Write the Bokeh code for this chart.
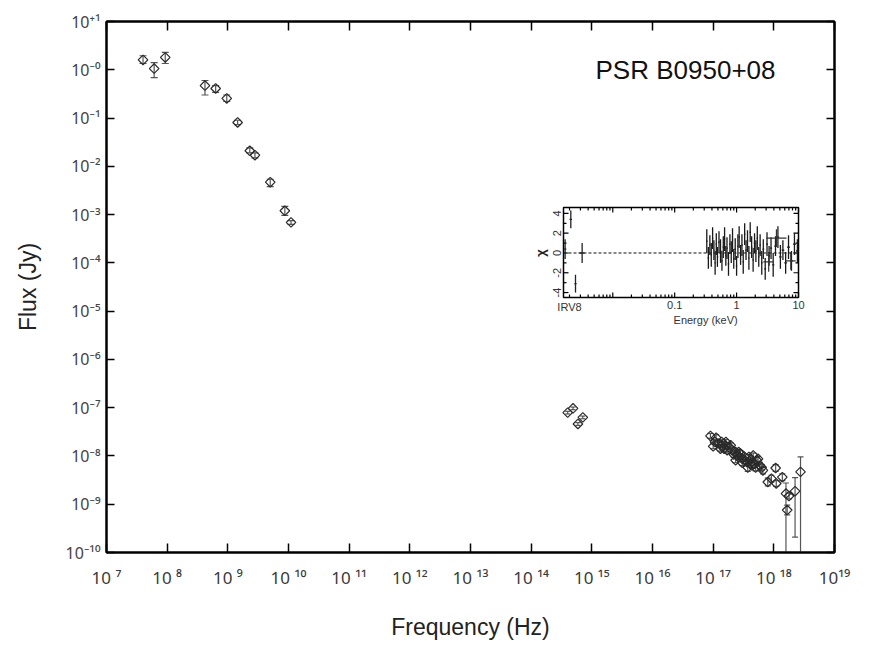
import numpy as np
from bokeh.plotting import figure
from bokeh.models import (LogAxis, FixedTicker, Label, Range1d, ColumnDataSource,
                          LogScale, LinearScale)
from bokeh.core.properties import value
from bokeh.embed import file_html
from bokeh.resources import INLINE

# ---------------- data ----------------
radio_freq = [4.0e7, 6.1e7, 9.3e7, 4.2e8, 6.3e8, 9.6e8, 1.45e9, 2.3e9, 2.8e9, 5.0e9, 8.7e9, 1.1e10]
radio_flux = [1.6, 1.06, 1.8, 0.47, 0.41, 0.255, 0.081, 0.021, 0.017, 0.0047, 0.0012, 0.00069]
radio_hi = [1.95, 1.41, 2.3, 0.60, 0.47, 0.30, 0.090, 0.024, 0.019, 0.0054, 0.00148, 0.00075]
radio_lo = [1.35, 0.69, 1.35, 0.30, 0.34, 0.22, 0.073, 0.019, 0.015, 0.0038, 0.00096, 0.00063]

optical_freq = [4.0e14, 4.9e14, 5.9e14, 7.1e14]
optical_flux = [7.9e-8, 9.7e-8, 4.6e-8, 6.3e-8]
optical_hi = [8.4e-8, 1.03e-7, 4.9e-8, 6.7e-8]
optical_lo = [7.4e-8, 9.1e-8, 4.3e-8, 5.9e-8]

# X-ray points: log10 frequency, log10 flux, error up / down (dex)
xray_logf = [16.955, 17.049, 17.00, 17.08, 17.03, 17.14, 17.21, 17.18, 17.26, 17.31,
             17.29, 17.37, 17.40, 17.42, 17.45, 17.48, 17.51, 17.53, 17.56, 17.59,
             17.62, 17.66, 17.68, 17.72, 17.74, 17.77, 17.80, 17.82, 17.57, 17.64,
             17.37, 17.23, 17.14, 17.34, 17.48, 17.12, 17.20, 17.42, 17.70, 17.61,
             17.90, 17.96, 18.03, 18.04, 18.14, 18.20, 18.22, 18.25, 18.35, 18.44]
xray_logF = [-7.585, -7.62, -7.80, -7.74, -7.71, -7.78, -7.71, -7.85, -7.81, -7.88,
             -7.78, -7.92, -7.99, -8.03, -7.95, -8.06, -8.01, -8.10, -8.13, -8.02,
             -8.08, -7.99, -8.16, -8.09, -8.06, -8.20, -8.24, -8.30, -8.24, -8.20,
             -8.09, -7.88, -7.71, -7.97, -8.14, -7.85, -7.78, -7.92, -8.24, -8.16,
             -8.54, -8.47, -8.25, -8.57, -8.44, -8.78, -9.12, -8.83, -8.73, -8.33]
xray_up = [0.05, 0.06, 0.05, 0.06, 0.05, 0.06, 0.05, 0.06, 0.05, 0.06,
           0.05, 0.06, 0.06, 0.05, 0.06, 0.06, 0.05, 0.06, 0.07, 0.05,
           0.06, 0.05, 0.07, 0.06, 0.05, 0.07, 0.06, 0.07, 0.08, 0.06,
           0.05, 0.06, 0.05, 0.06, 0.06, 0.05, 0.06, 0.05, 0.07, 0.06,
           0.08, 0.07, 0.07, 0.06, 0.07, 0.22, 0.10, 0.06, 0.28, 0.31]
xray_dn = [0.05, 0.06, 0.05, 0.06, 0.05, 0.06, 0.05, 0.06, 0.05, 0.06,
           0.05, 0.06, 0.06, 0.05, 0.06, 0.06, 0.05, 0.06, 0.07, 0.05,
           0.06, 0.05, 0.07, 0.06, 0.05, 0.07, 0.06, 0.07, 0.08, 0.06,
           0.05, 0.06, 0.05, 0.06, 0.06, 0.05, 0.06, 0.05, 0.07, 0.06,
           0.08, 0.07, 0.07, 0.06, 0.07, 3.00, 0.10, 0.06, 0.95, 3.00]

# Inset: residuals (chi) vs energy (keV)
low_E = [0.0017, 0.0021, 0.0025, 0.0032]
low_Elo = [0.00162, 0.0020, 0.0024, 0.0029]
low_Ehi = [0.00178, 0.0022, 0.0026, 0.0035]
low_chi = [0.4, 3.4, -3.1, 0.0]
low_err = [1.0, 0.9, 0.9, 1.0]

dense_E = [0.33, 0.35, 0.37, 0.39, 0.41, 0.43, 0.45, 0.47, 0.49, 0.52,
           0.55, 0.58, 0.61, 0.64, 0.67, 0.70, 0.74, 0.78, 0.82, 0.86,
           0.90, 0.95, 1.00, 1.05, 1.10, 1.16, 1.22, 1.28, 1.35, 1.42,
           1.50, 1.58, 1.66, 1.75, 1.85, 1.95, 2.05, 2.16, 2.28, 2.40,
           2.55, 2.70, 2.90, 3.10, 3.35, 3.60, 3.90, 4.25, 4.65, 5.10,
           5.60, 6.20, 6.90, 7.70, 8.60, 9.60]
dense_chi = [1.2, -0.5, 0.8, -0.2, 1.5, 0.3, -1.0, 0.9, -0.4, 1.1,
             0.2, -0.8, 0.6, 1.4, -0.3, 0.5, -1.1, 0.9, 0.1, 1.3,
             -0.6, 0.4, -1.3, 0.7, 1.6, -0.2, 0.8, -0.9, 1.9, 0.3,
             1.2, -0.5, 2.1, 0.6, -0.7, 1.0, 0.2, 1.5, -0.4, 0.8,
             -1.0, 0.4, -1.6, 0.9, -0.3, 0.5, -1.2, 0.7, 1.6, -0.4,
             0.3, -1.0, 0.6, -0.8, 0.9, 0.2]
dense_err = [1.2, 1.1, 1.0, 1.2, 1.1, 1.0, 1.2, 1.1, 1.0, 1.1,
             1.2, 1.0, 1.1, 1.2, 1.0, 1.1, 1.2, 1.0, 1.1, 1.2,
             1.0, 1.1, 1.0, 1.2, 1.1, 1.0, 1.1, 1.2, 1.1, 1.0,
             1.1, 1.2, 1.0, 1.1, 1.2, 1.0, 1.1, 1.2, 1.0, 1.1,
             1.2, 1.0, 1.1, 1.2, 1.0, 1.1, 1.2, 1.0, 1.1, 1.2,
             1.0, 1.1, 1.2, 1.0, 1.1, 1.2]
wide_E = [4.4, 3.3, 7.5]
wide_Elo = [3.0, 2.7, 6.2]
wide_Ehi = [6.4, 4.0, 9.0]
wide_chi = [1.5, -0.9, -0.8]
wide_err = [0.9, 1.0, 0.9]

title_text = "PSR B0950+08"

# inset axis definitions
E_MIN, E_MAX = 0.0016, 10.0
CHI_MIN, CHI_MAX = -4.5, 4.6
ex_major = [0.01, 0.1, 1.0, 10.0]
ex_minor = [0.002, 0.003, 0.004, 0.005, 0.006, 0.007, 0.008, 0.009,
            0.02, 0.03, 0.04, 0.05, 0.06, 0.07, 0.08, 0.09,
            0.2, 0.3, 0.4, 0.5, 0.6, 0.7, 0.8, 0.9,
            2.0, 3.0, 4.0, 5.0, 6.0, 7.0, 8.0, 9.0]
ex_label_pos = [0.002, 0.1, 1.0, 10.0]
ex_label_txt = ["IRV8", "0.1", "1", "10"]
chi_major = [-4, -2, 0, 2, 4]
chi_minor = [-3, -1, 1, 3]

# ---------------- fonts & styles ----------------
SANS = "Liberation Sans"
TICKF = "Noto Sans"
SUP = str.maketrans("0123456789+-", "⁰¹²³⁴⁵⁶⁷⁸⁹⁺⁻")


def sup(s):
    return s.translate(SUP)


xticks = [10.0 ** k for k in range(7, 20)]
yticks = [10.0 ** k for k in range(-10, 2)]
xlabels = {}
for k, t in zip(range(7, 20), xticks):
    xlabels[t] = ("10" + sup(str(k))) if k == 19 else ("10 " + sup(str(k)))
ylabels = {}
for k, t in zip(range(-10, 2), yticks):
    if k == 1:
        ylabels[t] = "10" + sup("+1")
    elif k == 0:
        ylabels[t] = "10" + sup("-0")
    else:
        ylabels[t] = "10" + sup(str(k))

# ---------------- layout geometry (pixels) ----------------
FW, FH = 728, 531           # main frame size
IL, IR = 457, 692           # inset frame left/right, px from main frame left
IT, IB = 186, 276           # inset frame top/bottom, px from main frame top

lx_per_px = (np.log10(E_MAX) - np.log10(E_MIN)) / (IR - IL)
ins_x0 = 10 ** (np.log10(E_MIN) - IL * lx_per_px)
ins_x1 = 10 ** (np.log10(E_MAX) + (FW - IR) * lx_per_px)
chi_per_px = (CHI_MAX - CHI_MIN) / (IB - IT)
ins_y1 = CHI_MAX + IT * chi_per_px
ins_y0 = CHI_MIN - (FH - IB) * chi_per_px

# ---------------- main figure ----------------
p = figure(frame_width=FW, frame_height=FH, x_axis_type="log", y_axis_type="log",
           x_range=Range1d(1e7, 1e19), y_range=Range1d(1e-10, 10),
           output_backend="svg", toolbar_location=None,
           min_border_left=106, min_border_right=30, min_border_top=21, min_border_bottom=94,
           background_fill_color="white", border_fill_color="white")
p.extra_x_ranges = {"ins": Range1d(ins_x0, ins_x1)}
p.extra_x_scales = {"ins": LogScale()}
p.extra_y_ranges = {"chi": Range1d(ins_y0, ins_y1)}
p.extra_y_scales = {"chi": LinearScale()}
p.grid.visible = False
p.outline_line_color = "black"
p.outline_line_width = 2

xa = p.xaxis[0]
xa.ticker = FixedTicker(ticks=xticks, minor_ticks=[])
xa.major_label_overrides = xlabels
xa.major_tick_in = 9
xa.major_tick_out = 0
xa.major_tick_line_width = 1.5
xa.axis_line_width = 2
xa.major_label_text_font = TICKF
xa.major_label_text_font_size = "17px"
xa.major_label_text_color = "#3a3a3a"
xa.major_label_standoff = 13
xa.axis_label = "Frequency (Hz)"
xa.axis_label_text_font = SANS
xa.axis_label_text_font_size = "23px"
xa.axis_label_text_font_style = "normal"
xa.axis_label_text_color = "#222222"
xa.axis_label_standoff = 22

ya = p.yaxis[0]
ya.ticker = FixedTicker(ticks=yticks, minor_ticks=[])
ya.major_label_overrides = ylabels
ya.major_tick_in = 8
ya.major_tick_out = 0
ya.major_tick_line_width = 1.5
ya.axis_line_width = 2
ya.major_label_text_font = TICKF
ya.major_label_text_font_size = "16px"
ya.major_label_text_color = "#444444"
ya.major_label_standoff = 6
ya.axis_label = "Flux (Jy)"
ya.axis_label_text_font = SANS
ya.axis_label_text_font_size = "23px"
ya.axis_label_text_font_style = "normal"
ya.axis_label_text_color = "#222222"
ya.axis_label_standoff = 22

top = LogAxis(ticker=FixedTicker(ticks=xticks, minor_ticks=[]), major_tick_in=9, major_tick_out=0,
              major_tick_line_width=1.5, axis_line_width=2, major_label_text_font_size="8px",
              major_label_text_alpha=0.0, major_label_standoff=0)
p.add_layout(top, "above")
right = LogAxis(ticker=FixedTicker(ticks=yticks, minor_ticks=[]), major_tick_in=8, major_tick_out=0,
                major_tick_line_width=1.5, axis_line_width=2, major_label_text_font_size="8px",
                major_label_text_alpha=0.0, major_label_standoff=0)
p.add_layout(right, "right")

ERR = "#555555"
MK = "#2a2a2a"


def draw_group(x, y, lo, hi, cap=7, ecolor=ERR):
    src = ColumnDataSource(dict(x=x, y=y, lo=lo, hi=hi))
    p.segment(x0="x", x1="x", y0="lo", y1="hi", source=src, line_color=ecolor, line_width=1.2)
    p.scatter(x="x", y="lo", source=src, marker="dash", size=cap, line_color=ecolor, line_width=1.2)
    p.scatter(x="x", y="hi", source=src, marker="dash", size=cap, line_color=ecolor, line_width=1.2)
    p.scatter(x="x", y="y", source=src, marker="square", angle=np.pi / 4, size=6.8,
              fill_alpha=0, line_color=MK, line_width=1.2)


draw_group(radio_freq, radio_flux, radio_lo, radio_hi)
draw_group(optical_freq, optical_flux, optical_lo, optical_hi, cap=5)
xf = list(10.0 ** np.array(xray_logf))
xF = list(10.0 ** np.array(xray_logF))
xlo = list(10.0 ** (np.array(xray_logF) - np.array(xray_dn)))
xhi = list(10.0 ** (np.array(xray_logF) + np.array(xray_up)))
draw_group(xf, xF, xlo, xhi, cap=6)

p.add_layout(Label(x=1.15e15, y=0.98, text=title_text, text_font=SANS, text_font_size="26px",
                   text_color="#111111", text_baseline="middle", text_align="left"))

# ---------------- inset (drawn on the extra ranges) ----------------
R = dict(x_range_name="ins", y_range_name="chi")
TICK_MAJ, TICK_MIN = 5, 3


def xfac(px):
    return 10 ** (px * lx_per_px)


p.quad(left=[E_MIN], right=[E_MAX], bottom=[CHI_MIN], top=[CHI_MAX], fill_color="white",
       line_color="black", line_width=1.5, **R)
for ticks, ln in ((ex_major, TICK_MAJ), (ex_minor, TICK_MIN)):
    n = len(ticks)
    p.segment(x0=ticks, x1=ticks, y0=[CHI_MIN] * n, y1=[CHI_MIN + ln * chi_per_px] * n,
              line_color="black", line_width=1.2, **R)
    p.segment(x0=ticks, x1=ticks, y0=[CHI_MAX] * n, y1=[CHI_MAX - ln * chi_per_px] * n,
              line_color="black", line_width=1.2, **R)
for ticks, ln in ((chi_major, TICK_MAJ), (chi_minor, TICK_MIN)):
    n = len(ticks)
    p.segment(x0=[E_MIN] * n, x1=[E_MIN * xfac(ln)] * n, y0=ticks, y1=ticks,
              line_color="black", line_width=1.2, **R)
    p.segment(x0=[E_MAX] * n, x1=[E_MAX / xfac(ln)] * n, y0=ticks, y1=ticks,
              line_color="black", line_width=1.2, **R)
p.text(x=ex_label_pos, y=[CHI_MIN] * len(ex_label_pos), text=ex_label_txt, y_offset=3,
       text_align="center", text_baseline="top", text_font=value(SANS), text_font_size="11px",
       text_color="#333333", **R)
p.text(x=[E_MIN] * len(chi_major), y=chi_major, text=[str(c) for c in chi_major], x_offset=-3,
       angle=np.pi / 2, text_align="center", text_baseline="bottom", text_font=value(SANS),
       text_font_size="11px", text_color="#333333", **R)
p.text(x=[10 ** ((np.log10(0.1) + np.log10(1.0)) / 2)], y=[CHI_MIN], text=["Energy (keV)"], y_offset=16,
       text_align="center", text_baseline="top", text_font=value(SANS), text_font_size="11px",
       text_color="#333333", **R)
p.text(x=[E_MIN], y=[0.0], text=["χ"], x_offset=-16, angle=np.pi / 2, text_align="center",
       text_baseline="bottom", text_font=value(SANS), text_font_size="13px", text_font_style="bold",
       text_color="#222222", **R)
p.segment(x0=[E_MIN], x1=[E_MAX], y0=[0.0], y1=[0.0], line_color="#111111", line_dash="3 2",
          line_width=1, **R)

e = np.array(dense_E)
mids = np.sqrt(e[1:] * e[:-1])
d_lo = np.concatenate([[e[0] ** 2 / mids[0]], mids])
d_hi = np.concatenate([mids, [e[-1] ** 2 / mids[-1]]])
dchi = np.array(dense_chi)
derr = np.array(dense_err)
p.segment(x0=e, x1=e, y0=dchi - derr, y1=dchi + derr, line_color="#1a1a1a", line_width=1.3, **R)
p.segment(x0=d_lo, x1=d_hi, y0=dchi, y1=dchi, line_color="#1a1a1a", line_width=1.3, **R)

wchi = np.array(wide_chi)
werr = np.array(wide_err)
p.segment(x0=wide_E, x1=wide_E, y0=wchi - werr, y1=wchi + werr, line_color="#333333", line_width=1.2, **R)
p.segment(x0=wide_Elo, x1=wide_Ehi, y0=wide_chi, y1=wide_chi, line_color="#333333", line_width=1.2, **R)

lchi = np.array(low_chi)
lerr = np.array(low_err)
p.segment(x0=low_E, x1=low_E, y0=lchi - lerr, y1=lchi + lerr, line_color="#222222", line_width=1.3, **R)
p.segment(x0=low_Elo, x1=low_Ehi, y0=low_chi, y1=low_chi, line_color="#222222", line_width=1.3, **R)

open("out.html", "w").write(file_html(p, INLINE))
